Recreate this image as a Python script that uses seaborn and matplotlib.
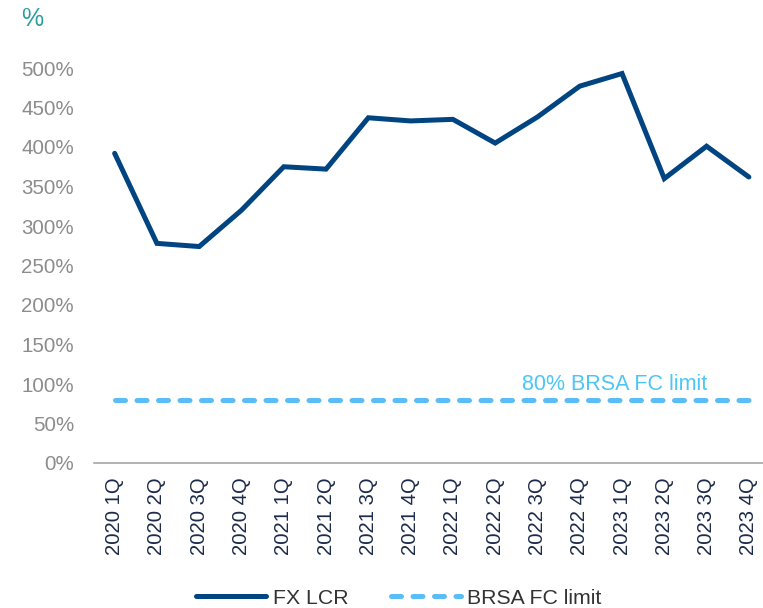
import matplotlib
matplotlib.use("Agg")
import matplotlib.pyplot as plt
import seaborn as sns
import pandas as pd
import numpy as np
from matplotlib.ticker import FixedLocator, PercentFormatter

quarters = ["2020 1Q", "2020 2Q", "2020 3Q", "2020 4Q",
            "2021 1Q", "2021 2Q", "2021 3Q", "2021 4Q",
            "2022 1Q", "2022 2Q", "2022 3Q", "2022 4Q",
            "2023 1Q", "2023 2Q", "2023 3Q", "2023 4Q"]
fx_lcr = [392, 278, 274, 320, 375, 372, 437, 433, 435, 405, 438, 477, 493, 360, 401, 362]
brsa_limit = [80] * len(quarters)
y_ticks = [0, 50, 100, 150, 200, 250, 300, 350, 400, 450, 500]

df = pd.DataFrame({"quarter": quarters, "FX LCR": fx_lcr, "BRSA FC limit": brsa_limit})

sns.set_style("white")
plt.rcParams["font.family"] = ["Liberation Sans", "DejaVu Sans"]

W, H = 763, 608
fig = plt.figure(figsize=(W / 100, H / 100), dpi=100)
# axes right edge runs past the figure like in the original
ax = fig.add_axes([93.5 / W, 1 - 463 / H, (770 - 93.5) / W, (463 - 68) / H])

sns.lineplot(data=df, x="quarter", y="FX LCR", ax=ax, color="#004481", lw=3.6,
             label="FX LCR", sort=False, clip_on=False, solid_capstyle="round",
             solid_joinstyle="miter")
sns.lineplot(data=df, x="quarter", y="BRSA FC limit", ax=ax, color="#5BBDF5", lw=3.6,
             label="BRSA FC limit", sort=False, dash_capstyle="round")
ax.lines[1].set_dashes([2.0, 2.3])

n = len(quarters)
ax.set_xlim(-0.5, n - 0.5)
ax.set_ylim(0, 500)
ax.set_xlabel("")
ax.set_ylabel("")

ax.yaxis.set_major_locator(FixedLocator(y_ticks))
ax.yaxis.set_major_formatter(PercentFormatter(decimals=0))
ax.tick_params(axis="y", length=0, labelsize=14.8, labelcolor="#8C8C8C", pad=14)

ax.set_xticks(range(n))
ax.set_xticklabels(quarters, rotation=90)
ax.set_xticks(np.arange(-0.5, n, 1.0), minor=True)
ax.tick_params(axis="x", which="major", length=0, labelsize=14.6, labelcolor="#1C2B4A", pad=10)
ax.tick_params(axis="x", which="minor", length=7, width=1.2, color="#A6A6A6", direction="out")

for s in ["top", "right", "left"]:
    ax.spines[s].set_visible(False)
ax.spines["bottom"].set_color("#A6A6A6")
ax.spines["bottom"].set_linewidth(1.2)

ax.text(11.83, 100, "80% BRSA FC limit", color="#4CC6F5", fontsize=15.5,
        ha="center", va="center")
fig.text(21 / W, 1 - 19 / H, "%", color="#2E9C9C", fontsize=18, ha="left", va="center")

ax.legend_.remove()
handles, labels = ax.get_legend_handles_labels()
fig.legend(handles, labels, loc="center", bbox_to_anchor=(399 / W, 1 - 598 / H),
           ncol=2, frameon=False, fontsize=15.3, handlelength=3.3, columnspacing=2.0,
           handletextpad=0.3, labelcolor="#333333")

fig.savefig("out.png", dpi=100)
